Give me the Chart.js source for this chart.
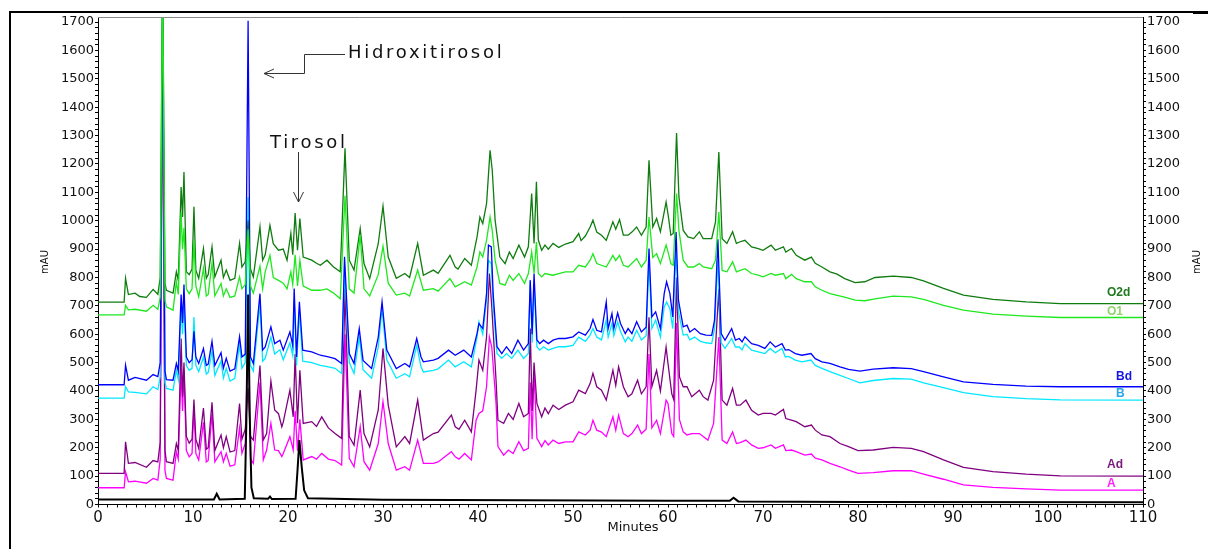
<!DOCTYPE html>
<html lang="es">
<head>
<meta charset="UTF-8">
<title>Cromatograma</title>
<style>
  html, body { margin: 0; padding: 0; background: #fff; }
  #chrom { display: block; width: 1208px; height: 549px; }
</style>
</head>
<body>
<canvas id="chrom" width="1208" height="549"></canvas>
<script src="https://cdn.jsdelivr.net/npm/chart.js"></script>
<script>
// Chromatogram traces, [minutes, mAU]
const stdTrace = [[0,18],[12.2,18],[12.5,38],[12.8,18],[15.45,20],[15.62,300],[15.8,740],[15.98,300],[16.15,60],[16.4,22],[17.9,20],[18.1,28],[18.3,19],[20.8,20],[21.0,120],[21.2,227],[21.45,130],[21.7,50],[22.1,22],[30,17],[45,15],[60,13],[66.5,13],[66.9,24],[67.4,11],[80,9],[110,8]];

const o2d = [[0,713],[2.75,713],[2.9,797],[3.2,740],[3.9,745],[4.4,733],[5.1,730],[5.8,758],[6.3,741],[6.55,800],[6.8,1900],[7.05,780],[7.2,755],[7.9,745],[8.25,820],[8.45,790],[8.75,1119],[8.9,1013],[9.05,1172],[9.3,820],[9.6,810],[9.9,830],[10.1,1049],[10.3,826],[10.6,797],[11.1,902],[11.4,797],[11.6,810],[12.0,908],[12.3,802],[12.95,861],[13.2,800],[13.5,826],[13.9,790],[14.4,797],[14.9,920],[15.15,837],[15.5,855],[15.8,1002],[16.05,830],[16.35,802],[17.05,978],[17.33,861],[17.6,880],[18.1,984],[18.45,919],[19.0,896],[19.5,900],[19.9,861],[20.3,955],[20.5,880],[20.75,1027],[21.0,896],[21.25,1008],[21.6,872],[22.5,861],[23.0,850],[23.4,843],[24.1,861],[24.8,837],[25.5,820],[26.0,1255],[26.45,861],[26.95,826],[27.6,972],[28.0,849],[28.6,796],[29.5,919],[30.0,1051],[30.55,872],[31.4,797],[32.3,814],[32.8,800],[33.65,920],[34.25,808],[35.3,826],[35.8,815],[37.05,878],[37.6,837],[37.9,830],[38.6,867],[39.3,843],[39.9,943],[40.2,1013],[40.5,990],[40.9,1060],[41.27,1248],[41.5,1178],[41.8,1002],[42.3,872],[42.85,849],[43.3,890],[43.7,867],[44.3,914],[44.9,872],[45.3,908],[45.65,1096],[45.9,920],[46.15,1137],[46.35,932],[46.7,896],[47.05,914],[47.4,900],[47.9,920],[48.5,906],[49.2,918],[50.0,926],[50.6,955],[50.85,930],[51.3,946],[51.8,978],[52.1,1002],[52.5,960],[53.0,949],[53.5,931],[54.2,996],[54.5,970],[54.9,1004],[55.3,949],[55.8,949],[56.2,960],[56.7,978],[57.2,949],[57.7,978],[58.0,1213],[58.4,978],[58.8,1008],[59.2,961],[59.8,1066],[60.05,1013],[60.3,949],[60.55,955],[60.9,1309],[61.15,1084],[61.6,966],[62.1,943],[62.7,937],[63.3,961],[63.7,937],[64.6,937],[65.0,996],[65.35,1242],[65.7,937],[66.2,920],[66.8,961],[67.2,920],[67.6,926],[68.1,931],[68.8,908],[69.5,902],[70.0,896],[70.85,914],[71.3,896],[72.15,908],[72.4,890],[73.0,902],[73.5,878],[74.4,861],[75.1,872],[75.5,850],[76.2,837],[77.05,820],[77.8,812],[78.6,796],[79.7,782],[80.7,785],[81.8,800],[83.7,805],[85.6,800],[86.9,788],[89,762],[91.1,738],[94.2,723],[97.7,714],[101.3,708],[110,708]];

const o1 = [[0,668],[2.75,668],[2.9,702],[3.2,686],[3.9,688],[5.1,681],[5.8,702],[6.3,688],[6.55,730],[6.8,1900],[7.05,720],[7.2,697],[7.9,685],[8.25,785],[8.45,740],[8.75,1030],[8.9,900],[9.05,975],[9.3,760],[9.6,743],[9.9,760],[10.1,931],[10.3,770],[10.6,732],[11.1,832],[11.4,735],[11.6,740],[12.0,850],[12.3,735],[12.95,779],[13.2,735],[13.5,760],[13.9,730],[14.4,735],[14.9,802],[15.15,760],[15.5,775],[15.8,970],[16.05,770],[16.35,745],[17.05,840],[17.33,760],[17.6,820],[18.1,878],[18.45,800],[19.0,790],[19.5,780],[19.9,760],[20.3,820],[20.5,775],[20.75,880],[21.0,770],[21.25,860],[21.6,770],[22.5,755],[23.4,755],[24.1,760],[24.8,745],[25.5,725],[26.0,1088],[26.45,760],[26.95,745],[27.6,950],[28.0,760],[28.6,735],[29.5,810],[30.0,910],[30.55,780],[31.4,738],[32.3,745],[32.8,735],[33.65,826],[34.25,755],[35.3,761],[35.8,752],[37.05,796],[37.6,767],[38.6,785],[39.3,773],[39.9,837],[40.2,890],[40.5,872],[40.9,931],[41.27,1013],[41.5,966],[41.8,861],[42.3,779],[42.85,773],[43.3,808],[43.7,790],[44.3,814],[44.9,779],[45.3,814],[45.65,890],[45.9,814],[46.15,925],[46.35,814],[46.7,802],[47.05,814],[47.9,808],[48.5,814],[49.2,820],[50.0,820],[50.6,843],[51.3,837],[51.8,861],[52.1,884],[52.5,849],[53.5,837],[54.2,878],[54.5,860],[54.9,878],[55.3,843],[55.8,837],[56.7,867],[57.2,837],[57.7,860],[58.0,1013],[58.4,870],[58.8,884],[59.2,849],[59.8,914],[60.05,884],[60.3,849],[60.55,843],[60.9,1096],[61.15,966],[61.6,861],[62.1,837],[62.7,837],[63.3,849],[63.7,837],[64.6,831],[65.0,861],[65.35,1031],[65.7,825],[66.2,820],[66.8,855],[67.2,820],[67.6,825],[68.1,831],[68.8,814],[69.5,808],[70.0,802],[70.85,814],[71.3,808],[72.15,814],[72.4,796],[73.0,811],[73.5,796],[74.4,785],[75.1,785],[75.5,767],[76.2,755],[77.05,743],[77.8,737],[78.6,731],[79.7,720],[80.7,718],[81.8,725],[83.7,734],[85.6,732],[86.9,723],[89,702],[91.1,685],[94.2,671],[97.7,664],[101.3,659],[110,659]];

const bd = [[0,422],[2.75,422],[2.9,491],[3.2,438],[3.9,448],[5.1,438],[5.8,458],[6.3,451],[6.55,500],[6.8,1780],[7.05,470],[7.2,440],[7.9,438],[8.25,497],[8.45,470],[8.75,740],[8.9,640],[9.05,775],[9.3,520],[9.6,500],[9.9,510],[10.1,610],[10.3,520],[10.6,497],[11.1,550],[11.4,490],[11.6,495],[12.0,575],[12.3,490],[12.95,535],[13.2,480],[13.5,515],[13.9,470],[14.4,478],[14.9,591],[15.15,520],[15.5,530],[15.8,1705],[16.05,520],[16.35,497],[17.05,743],[17.33,544],[17.6,555],[18.2,626],[18.6,567],[19.15,579],[19.5,544],[20.2,608],[20.5,560],[20.65,761],[20.9,520],[21.2,714],[21.55,544],[22.5,538],[23.4,526],[24.25,520],[24.95,514],[25.65,497],[25.95,873],[26.45,532],[26.95,497],[27.5,620],[27.9,508],[28.8,479],[29.5,590],[29.9,714],[30.4,544],[31.4,479],[32.3,497],[32.8,485],[33.55,585],[34.0,520],[34.25,503],[35.3,509],[35.8,515],[36.9,544],[37.6,526],[38.5,544],[39.3,520],[39.9,603],[40.1,638],[40.5,620],[40.9,743],[41.1,914],[41.4,908],[41.6,740],[42.0,556],[42.5,532],[43.0,556],[43.55,532],[44.2,579],[44.8,544],[45.3,567],[45.5,790],[45.7,600],[45.9,814],[46.2,580],[46.5,567],[46.9,579],[47.4,567],[47.9,579],[48.5,585],[49.2,585],[50.0,591],[50.6,608],[51.3,597],[51.8,620],[52.1,652],[52.5,614],[53.0,608],[53.5,714],[53.7,620],[54.1,673],[54.3,620],[54.7,675],[55.0,638],[55.5,602],[55.8,620],[56.2,602],[56.7,644],[57.2,608],[57.7,625],[58.0,902],[58.3,661],[58.7,679],[59.2,620],[59.6,743],[59.85,785],[60.2,743],[60.5,661],[60.85,960],[61.1,720],[61.6,626],[62.0,632],[62.3,608],[62.8,620],[63.4,602],[64.0,597],[64.6,596],[64.9,650],[65.25,935],[65.6,602],[66.0,579],[66.7,620],[67.1,579],[67.5,585],[67.8,573],[68.1,591],[68.8,567],[69.5,561],[70.2,550],[70.75,573],[71.3,555],[72.0,567],[72.35,544],[72.7,546],[73.4,532],[74.1,526],[75.05,532],[75.5,514],[76.2,503],[77.05,497],[78.1,485],[79.0,476],[80.2,470],[81.6,477],[83.7,482],[85.6,479],[86.9,468],[89,450],[91.1,432],[94.2,423],[97.7,417],[101.3,415],[110,415]];

const b = [[0,375],[2.75,375],[2.9,415],[3.2,397],[3.9,395],[5.1,390],[5.8,415],[6.3,405],[6.55,450],[6.8,1750],[7.05,430],[7.2,409],[7.9,403],[8.25,473],[8.45,440],[8.75,700],[8.9,600],[9.05,720],[9.3,490],[9.6,473],[9.9,480],[10.1,661],[10.3,490],[10.6,468],[11.1,520],[11.4,460],[11.6,465],[12.0,540],[12.3,455],[12.95,506],[13.2,445],[13.5,480],[13.9,435],[14.4,445],[14.9,562],[15.15,480],[15.5,500],[15.8,1083],[16.05,490],[16.35,470],[17.05,708],[17.33,505],[17.6,515],[18.2,590],[18.6,530],[19.15,545],[19.5,510],[20.2,570],[20.5,525],[20.65,720],[20.9,490],[21.2,680],[21.55,505],[22.5,500],[23.4,490],[24.25,485],[24.95,480],[25.65,462],[25.95,840],[26.45,500],[26.95,462],[27.5,590],[27.9,475],[28.8,445],[29.5,555],[29.9,690],[30.4,510],[31.4,445],[32.3,461],[32.8,450],[33.55,561],[34.0,485],[34.25,467],[35.3,473],[35.8,478],[36.9,509],[37.6,485],[38.5,503],[39.3,485],[39.9,591],[40.1,644],[40.5,600],[40.9,720],[41.1,860],[41.4,850],[41.6,700],[42.0,532],[42.5,515],[43.0,532],[43.55,515],[44.2,544],[44.8,515],[45.3,532],[45.5,790],[45.7,570],[45.9,778],[46.2,556],[46.5,544],[46.9,556],[47.4,544],[47.9,550],[48.5,556],[49.2,556],[50.0,561],[50.6,590],[51.3,575],[51.8,597],[52.1,620],[52.5,590],[53.0,580],[53.5,650],[53.7,590],[54.1,638],[54.3,595],[54.7,644],[55.0,610],[55.5,573],[55.8,590],[56.2,575],[56.7,614],[57.2,580],[57.7,595],[58.0,861],[58.3,620],[58.7,650],[59.2,590],[59.6,696],[59.85,714],[60.2,690],[60.5,620],[60.85,900],[61.1,680],[61.6,597],[62.0,600],[62.3,580],[62.8,590],[63.4,575],[64.0,570],[64.6,567],[64.9,620],[65.25,861],[65.6,570],[66.0,550],[66.7,585],[67.1,555],[67.5,555],[67.8,545],[68.1,567],[68.8,544],[69.5,538],[70.2,532],[70.75,550],[71.3,535],[72.0,550],[72.35,520],[72.7,522],[73.4,509],[74.1,503],[75.05,509],[75.5,490],[76.2,480],[77.05,468],[78.1,455],[79.0,444],[80.2,429],[81.6,437],[83.7,444],[85.6,442],[86.9,429],[89,412],[91.1,394],[94.2,380],[97.7,373],[101.3,369],[110,368]];

const ad = [[0,110],[2.75,110],[2.9,221],[3.2,145],[3.9,148],[5.1,131],[5.8,155],[6.3,150],[6.55,220],[6.8,1700],[7.05,190],[7.2,151],[7.9,145],[8.25,215],[8.45,190],[8.75,585],[8.9,380],[9.05,500],[9.3,240],[9.6,216],[9.9,230],[10.1,370],[10.3,230],[10.6,198],[11.1,340],[11.4,195],[11.6,200],[12.0,360],[12.3,190],[12.95,245],[13.2,200],[13.5,239],[13.9,185],[14.4,190],[14.9,356],[15.15,230],[15.5,265],[15.8,410],[16.05,240],[16.35,227],[17.05,490],[17.4,227],[17.75,250],[18.2,435],[18.6,333],[19.0,320],[19.35,274],[19.5,290],[20.2,403],[20.55,309],[20.75,530],[21.0,286],[21.25,473],[21.6,286],[22.5,292],[23.0,275],[23.55,309],[24.25,270],[24.95,250],[25.65,233],[26.0,760],[26.45,239],[26.95,209],[27.6,403],[28.0,250],[28.6,203],[29.5,333],[30.0,550],[30.55,350],[31.4,203],[32.3,239],[32.8,215],[33.65,368],[34.25,227],[35.3,250],[35.8,255],[37.2,315],[37.6,274],[38.0,265],[38.6,297],[39.3,256],[39.8,403],[40.1,509],[40.5,473],[40.9,591],[41.2,814],[41.45,696],[41.9,438],[42.1,297],[42.7,286],[43.2,321],[43.7,300],[44.3,356],[44.8,309],[45.3,321],[45.5,620],[45.7,330],[45.9,500],[46.2,356],[46.7,309],[47.05,340],[47.4,320],[47.9,350],[48.5,335],[49.2,350],[50.0,362],[50.6,403],[51.3,391],[51.8,426],[52.1,462],[52.5,415],[53.0,403],[53.5,368],[54.2,473],[54.5,420],[54.8,485],[55.3,415],[55.8,380],[56.2,390],[56.8,438],[57.2,390],[57.7,415],[58.0,660],[58.3,415],[58.8,473],[59.2,400],[59.8,555],[60.0,497],[60.4,390],[60.6,370],[60.9,800],[61.2,450],[61.6,415],[62.0,415],[62.5,380],[63.3,403],[63.7,380],[64.2,368],[64.8,438],[65.35,760],[65.7,368],[66.2,350],[66.8,409],[67.2,350],[67.6,350],[68.2,368],[68.8,332],[69.5,315],[70.0,321],[70.85,321],[71.3,315],[72.15,335],[72.4,303],[73.0,297],[73.5,292],[74.4,274],[75.1,280],[75.5,262],[76.2,245],[77.05,239],[78.1,215],[79.0,204],[80.0,190],[81.6,192],[83.7,201],[85.6,198],[86.9,186],[89,157],[91.1,131],[94.2,116],[97.7,107],[101.3,101],[110,100]];

const a = [[0,59],[2.75,59],[2.9,115],[3.2,80],[3.9,82],[5.1,75],[5.8,92],[6.3,86],[6.55,160],[6.8,1600],[7.05,120],[7.2,92],[7.9,86],[8.25,186],[8.45,160],[8.75,480],[8.9,330],[9.05,470],[9.3,190],[9.6,168],[9.9,180],[10.1,345],[10.3,180],[10.6,157],[11.1,290],[11.4,150],[11.6,155],[12.0,320],[12.3,150],[12.95,186],[13.2,150],[13.5,180],[13.9,135],[14.4,140],[14.9,270],[15.15,180],[15.5,215],[15.8,600],[16.05,160],[16.35,145],[17.05,430],[17.4,157],[17.75,192],[18.2,286],[18.6,192],[19.0,190],[19.35,169],[19.5,180],[20.2,239],[20.55,192],[20.75,330],[21.0,190],[21.25,300],[21.6,157],[22.5,169],[23.0,160],[23.55,180],[24.25,160],[24.95,155],[25.65,139],[26.0,600],[26.45,163],[26.95,133],[27.6,274],[28.0,151],[28.6,121],[29.5,215],[30.0,362],[30.55,215],[31.4,121],[32.3,133],[32.8,121],[33.65,227],[34.25,145],[35.3,145],[35.8,150],[37.2,186],[37.6,168],[38.0,160],[38.6,180],[39.3,157],[39.8,297],[40.1,321],[40.5,330],[40.9,415],[41.2,590],[41.45,555],[41.9,356],[42.1,204],[42.7,174],[43.2,192],[43.7,180],[44.3,221],[44.8,190],[45.3,198],[45.5,430],[45.7,230],[45.9,470],[46.2,233],[46.7,204],[47.05,225],[47.4,210],[47.9,227],[48.5,215],[49.2,221],[50.0,221],[50.6,256],[51.3,245],[51.8,262],[52.1,297],[52.5,262],[53.0,255],[53.5,239],[54.2,309],[54.5,262],[54.8,315],[55.3,250],[55.8,239],[56.2,250],[56.8,280],[57.2,250],[57.7,265],[58.0,530],[58.3,270],[58.8,297],[59.2,250],[59.8,368],[60.0,356],[60.4,250],[60.6,240],[60.9,640],[61.2,300],[61.6,256],[62.0,245],[62.5,250],[63.3,250],[63.7,240],[64.2,227],[64.8,286],[65.35,590],[65.7,227],[66.2,215],[66.8,256],[67.2,215],[67.6,218],[68.2,227],[68.8,210],[69.5,198],[70.0,200],[70.85,210],[71.3,198],[72.15,210],[72.4,190],[73.0,192],[73.5,186],[74.4,174],[75.1,178],[75.5,163],[76.2,157],[77.05,145],[78.1,133],[79.0,121],[80.0,110],[81.6,112],[83.7,119],[85.6,119],[86.9,107],[89,89],[91.1,69],[94.2,60],[97.7,55],[101.3,51],[110,51]];

// first entry is drawn on top
const traces = [
  { name: 'Std', data: stdTrace, color: '#000000', width: 2 },
  { name: 'O1', data: o1, color: '#1fe81f', width: 1.3 },
  { name: 'O2d', data: o2d, color: '#0e7c0e', width: 1.3 },
  { name: 'Bd', data: bd, color: '#0000ff', width: 1.3 },
  { name: 'B', data: b, color: '#00e8ff', width: 1.3 },
  { name: 'Ad', data: ad, color: '#800080', width: 1.3 },
  { name: 'A', data: a, color: '#ff00ff', width: 1.3 }
];

// trace names written at the right end
const traceTags = [
  { text: 'O2d', x: 1107, y: 293, color: '#1e7a1e' },
  { text: 'O1', x: 1107, y: 312, color: '#8fd46a' },
  { text: 'Bd', x: 1116, y: 377, color: '#1414e6' },
  { text: 'B', x: 1116, y: 394, color: '#27a6ec' },
  { text: 'Ad', x: 1107, y: 465, color: '#7a1a7a' },
  { text: 'A', x: 1107, y: 484, color: '#ff22ff' }
];

const everyHundred = v => (Math.abs(v - Math.round(v)) < 1e-6 && Math.round(v) % 100 === 0) ? Math.round(v) : '';
const everyTen = v => (Math.abs(v - Math.round(v)) < 1e-6 && Math.round(v) % 10 === 0) ? Math.round(v) : '';

Chart.defaults.font.family = '"DejaVu Sans", sans-serif';
Chart.defaults.color = '#111';

function yAxis(side, w) {
  return {
    type: 'linear',
    position: side,
    min: 0,
    max: 1718,
    ticks: { stepSize: 20, autoSkip: false, includeBounds: false, callback: everyHundred, font: { size: 13 }, padding: 1, color: '#111' },
    grid: { drawOnChartArea: false, tickLength: 3, color: '#000' },
    border: { color: '#000', width: 1 },
    afterFit: s => { s.width = w; }
  };
}

const decorations = {
  id: 'decorations',
  afterDraw(chart) {
    const ctx = chart.ctx;
    const area = chart.chartArea;
    ctx.save();

    // outer frame bits
    ctx.strokeStyle = '#000';
    ctx.lineWidth = 2;
    ctx.beginPath();
    ctx.moveTo(10, 549); ctx.lineTo(10, 12); ctx.lineTo(1193, 12);
    ctx.stroke();
    ctx.lineWidth = 3;
    ctx.beginPath(); ctx.moveTo(1193, 12.5); ctx.lineTo(1208, 12.5); ctx.stroke();

    // plot top border
    ctx.strokeStyle = '#8a8a8a';
    ctx.lineWidth = 1;
    ctx.beginPath(); ctx.moveTo(area.left, area.top + 0.5); ctx.lineTo(area.right, area.top + 0.5); ctx.stroke();

    // axis titles
    ctx.fillStyle = '#111';
    ctx.font = '10px "DejaVu Sans"';
    ctx.textAlign = 'center';
    ctx.textBaseline = 'middle';
    [45, 1197].forEach(x => {
      ctx.save();
      ctx.translate(x, 262);
      ctx.rotate(-Math.PI / 2);
      ctx.fillText('mAU', 0, 0);
      ctx.restore();
    });
    ctx.font = '13px "DejaVu Sans"';
    ctx.fillText('Minutes', 633, 528);

    // trace tags
    ctx.textAlign = 'left';
    ctx.font = 'bold 12px "Liberation Sans"';
    traceTags.forEach(t => { ctx.fillStyle = t.color; ctx.fillText(t.text, t.x, t.y); });

    // annotations
    ctx.fillStyle = '#111';
    ctx.textBaseline = 'alphabetic';
    ctx.font = '18px "DejaVu Sans"';
    ctx.letterSpacing = '2.7px';
    ctx.fillText('Hidroxitirosol', 348, 58);
    ctx.fillText('Tirosol', 270, 148);
    ctx.letterSpacing = '0px';

    ctx.strokeStyle = '#333';
    ctx.lineWidth = 1;
    ctx.beginPath();
    ctx.moveTo(345, 54.5); ctx.lineTo(304.5, 54.5); ctx.lineTo(304.5, 73.5); ctx.lineTo(264, 73.5);
    ctx.moveTo(274, 69); ctx.lineTo(264, 73.5); ctx.lineTo(274, 78);
    ctx.moveTo(298.5, 152); ctx.lineTo(298.5, 202);
    ctx.moveTo(293.5, 192); ctx.lineTo(298.5, 202); ctx.lineTo(303.5, 192);
    ctx.stroke();

    ctx.restore();
  }
};

new Chart(document.getElementById('chrom'), {
  type: 'scatter',
  data: {
    datasets: traces.map(t => ({
      label: t.name,
      data: t.data.map(p => ({ x: p[0], y: p[1] })),
      showLine: true,
      borderColor: t.color,
      backgroundColor: t.color,
      borderWidth: t.width,
      pointRadius: 0,
      pointHoverRadius: 0,
      tension: 0,
      fill: false,
      yAxisID: 'y'
    }))
  },
  options: {
    responsive: false,
    animation: false,
    devicePixelRatio: 1,
    events: [],
    layout: { padding: { top: 17, left: 0, right: 0, bottom: 0 } },
    plugins: { legend: { display: false }, tooltip: { enabled: false } },
    scales: {
      x: {
        type: 'linear',
        min: 0,
        max: 110,
        ticks: { stepSize: 1, autoSkip: false, maxRotation: 0, includeBounds: false, callback: everyTen, font: { size: 15 }, padding: 2, color: '#111' },
        grid: { drawOnChartArea: false, tickLength: 3, color: '#000' },
        border: { color: '#000', width: 1 },
        afterFit: s => { s.height = 44.5; }
      },
      y: yAxis('left', 98),
      y2: yAxis('right', 65)
    }
  },
  plugins: [decorations]
});
</script>
</body>
</html>
